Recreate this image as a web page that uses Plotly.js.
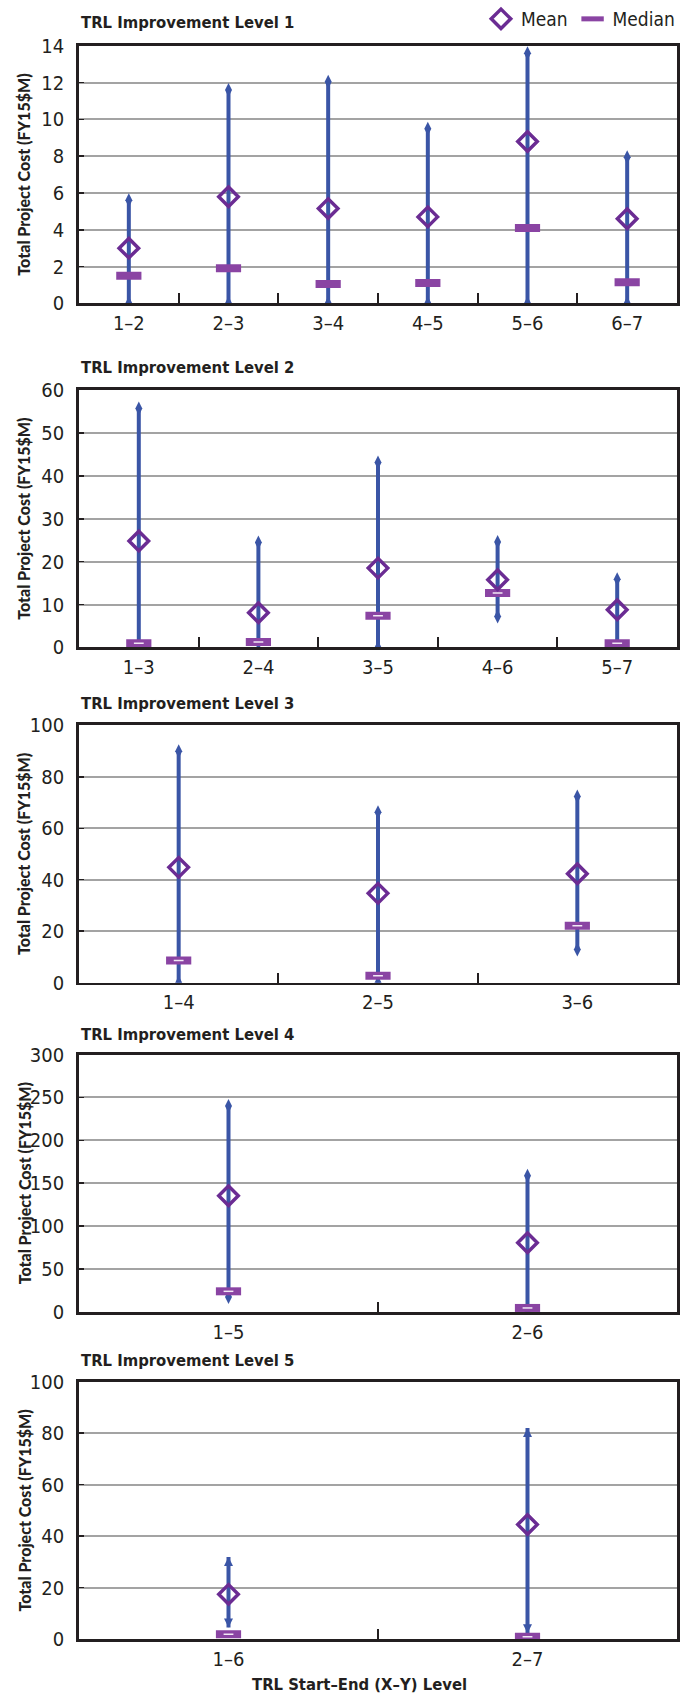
<!DOCTYPE html>
<html><head><meta charset="utf-8">
<script src="https://cdn.plot.ly/plotly-3.0.1.min.js"></script>
<style>html,body{margin:0;padding:0;background:#fff}</style>
</head><body><div id="chart" style="width:680px;height:1696px"></div>
<script>
// ---- Data ----
const panelTitles = ["TRL Improvement Level 1","TRL Improvement Level 2","TRL Improvement Level 3","TRL Improvement Level 4","TRL Improvement Level 5"];
const yTitle = "Total Project Cost (FY15$M)";
const xTitle = "TRL Start\u2013End (X\u2013Y) Level";

const cats1   = ["1\u20132","2\u20133","3\u20134","4\u20135","5\u20136","6\u20137"];
const max1    = [5.6, 11.6, 12.05, 9.5, 13.6, 7.95];
const mean1   = [3.0, 5.8, 5.15, 4.7, 8.8, 4.6];
const median1 = [1.5, 1.9, 1.05, 1.1, 4.1, 1.15];
const min1    = [0, 0, 0, 0, 0, 0];

const cats2   = ["1\u20133","2\u20134","3\u20135","4\u20136","5\u20137"];
const max2    = [55.7, 24.5, 43.1, 24.6, 15.9];
const mean2   = [24.8, 8.1, 18.5, 15.8, 8.8];
const median2 = [1.0, 1.3, 7.4, 12.7, 1.0];
const min2    = [0, 1.0, 0, 7.2, 1.0];

const cats3   = ["1\u20134","2\u20135","3\u20136"];
const max3    = [89.9, 66.2, 72.3];
const mean3   = [44.8, 34.7, 42.3];
const median3 = [8.6, 2.7, 22.1];
const min3    = [0, 0, 12.9];

const cats4   = ["1\u20135","2\u20136"];
const max4    = [240, 158.7];
const mean4   = [135.5, 80.5];
const median4 = [24, 4.6];
const min4    = [17.4, 2];

const cats5   = ["1\u20136","2\u20137"];
const max5    = [31.9, 82.0];
const mean5   = [17.4, 44.5];
const median5 = [1.9, 0.9];
const min5    = [4.5, 2.3];

const yMax  = [14, 60, 100, 300, 100];
const yStep = [2, 10, 20, 50, 20];

// ---- Styling ----
const NARROW = '"DejaVu Sans Condensed", "Liberation Sans Narrow", "Arial Narrow", sans-serif';
const YTFONT = 'Lato, "Liberation Sans", Arial, sans-serif';
const TXT = '#231f20';
const BLUE = '#3a55a6';
const MEANC = '#6b2c93';
const MEDC = '#8a44a3';
const GRID = '#a3a3a3';

const H = 1696, W = 680, ML = 79, MR = 2;
// panel plot area top/bottom in pixels
const tops = [42, 387, 723, 1053, 1381];
const bots = [300, 645, 981, 1311, 1639];
const titleY = [19, 364, 701, 1033, 1360];

const panels = [
  {cats: cats1, max: max1, mean: mean1, median: median1, min: min1},
  {cats: cats2, max: max2, mean: mean2, median: median2, min: min2},
  {cats: cats3, max: max3, mean: mean3, median: median3, min: min3},
  {cats: cats4, max: max4, mean: mean4, median: median4, min: min4},
  {cats: cats5, max: max5, mean: mean5, median: median5, min: min5}
];

const traces = [];
const layout = {
  width: W, height: H,
  margin: {l: ML, r: MR, t: 0, b: 0, pad: 0},
  paper_bgcolor: '#ffffff', plot_bgcolor: '#ffffff',
  font: {family: NARROW, color: TXT, size: 19},
  showlegend: true,
  legend: {orientation: 'h', x: 1.005, xanchor: 'right', y: 1 - 15/H, yanchor: 'middle',
           font: {family: NARROW, size: 19, color: TXT}, bgcolor: 'rgba(0,0,0,0)',
           itemwidth: 30, traceorder: 'normal'},
  annotations: []
};

panels.forEach((p, i) => {
  const n = i + 1;
  const xa = 'x' + (n === 1 ? '' : n), ya = 'y' + (n === 1 ? '' : n);
  // range lines
  const lx = [], ly = [];
  p.cats.forEach((c, k) => { lx.push(c, c, null); ly.push(p.min[k], p.max[k], null); });
  traces.push({type: 'scatter', mode: 'lines', x: lx, y: ly, xaxis: xa, yaxis: ya,
    line: {color: BLUE, width: 4}, showlegend: false, hoverinfo: 'skip', connectgaps: false});
  // end markers
  const isArrow = (n === 5);
  traces.push({type: 'scatter', mode: 'markers', x: p.cats.concat(p.cats), y: p.max.concat(p.min),
    xaxis: xa, yaxis: ya, showlegend: false,
    marker: {color: BLUE, size: isArrow ? 9 : 10,
      symbol: isArrow ? p.cats.map(() => 'arrow-up').concat(p.cats.map(() => 'arrow-down'))
                      : 'diamond-tall', line: {width: 0}}});
  // median
  traces.push({type: 'scatter', mode: 'markers', x: p.cats, y: p.median, xaxis: xa, yaxis: ya,
    name: 'Median', legendrank: 2, showlegend: n === 1,
    marker: {symbol: 'line-ew', size: 18, color: MEDC, line: {color: MEDC, width: 8}}});
  if (n > 1) {
    traces.push({type: 'scatter', mode: 'markers', x: p.cats, y: p.median, xaxis: xa, yaxis: ya,
      showlegend: false, hoverinfo: 'skip',
      marker: {symbol: 'line-ew', size: 7, color: '#ffffff', line: {color: '#f2e8f5', width: 1.5}}});
  }
  // mean
  traces.push({type: 'scatter', mode: 'markers', x: p.cats, y: p.mean, xaxis: xa, yaxis: ya,
    name: 'Mean', legendrank: 1, showlegend: n === 1,
    marker: {symbol: 'diamond-open', size: 15, color: MEANC, line: {color: MEANC, width: 3.5}}});

  const dom = [1 - bots[i] / H, 1 - tops[i] / H];
  layout['xaxis' + (n === 1 ? '' : n)] = {
    domain: [0, 1], anchor: ya, type: 'category',
    range: [-0.5, p.cats.length - 0.5], fixedrange: true,
    showline: true, linecolor: TXT, linewidth: 2.8, mirror: true,
    ticks: 'inside', tickson: 'boundaries', ticklen: 10, tickwidth: 2, tickcolor: TXT,
    showgrid: false, zeroline: false,
    tickfont: {family: NARROW, size: 20, color: TXT}
  };
  layout['yaxis' + (n === 1 ? '' : n)] = {
    domain: dom, anchor: xa, range: [0, yMax[i]], dtick: yStep[i], tick0: 0,
    showline: true, linecolor: TXT, linewidth: 2.8, mirror: true,
    ticks: 'inside', ticklen: 5, tickwidth: 1.5, tickcolor: TXT,
    showgrid: true, gridcolor: GRID, gridwidth: 2, zeroline: false,
    ticklabelstandoff: 8,
    tickfont: {family: NARROW, size: 20, color: TXT}, fixedrange: true
  };
  // panel title
  layout.annotations.push({text: panelTitles[i], xref: 'paper', yref: 'paper',
    x: 0, xanchor: 'left', y: 1 - titleY[i] / H, yanchor: 'middle', showarrow: false,
    font: {family: NARROW, size: 16.5, color: TXT, weight: 700}});
  // y title
  layout.annotations.push({text: yTitle, xref: 'paper', yref: 'paper', textangle: -90,
    x: (24 - ML) / (W - ML - MR), xanchor: 'center', y: 1 - (tops[i] + bots[i]) / 2 / H, yanchor: 'middle',
    showarrow: false, font: {family: YTFONT, size: 16, color: TXT, weight: 900}});
});

layout.annotations.push({text: xTitle, xref: 'paper', yref: 'paper',
  x: (360 - ML) / (W - ML - MR), xanchor: 'center', y: 1 - 1684 / H, yanchor: 'middle', showarrow: false,
  font: {family: NARROW, size: 16.5, color: TXT, weight: 700}});

Plotly.newPlot('chart', traces, layout, {displayModeBar: false, staticPlot: true});
</script></body></html>
